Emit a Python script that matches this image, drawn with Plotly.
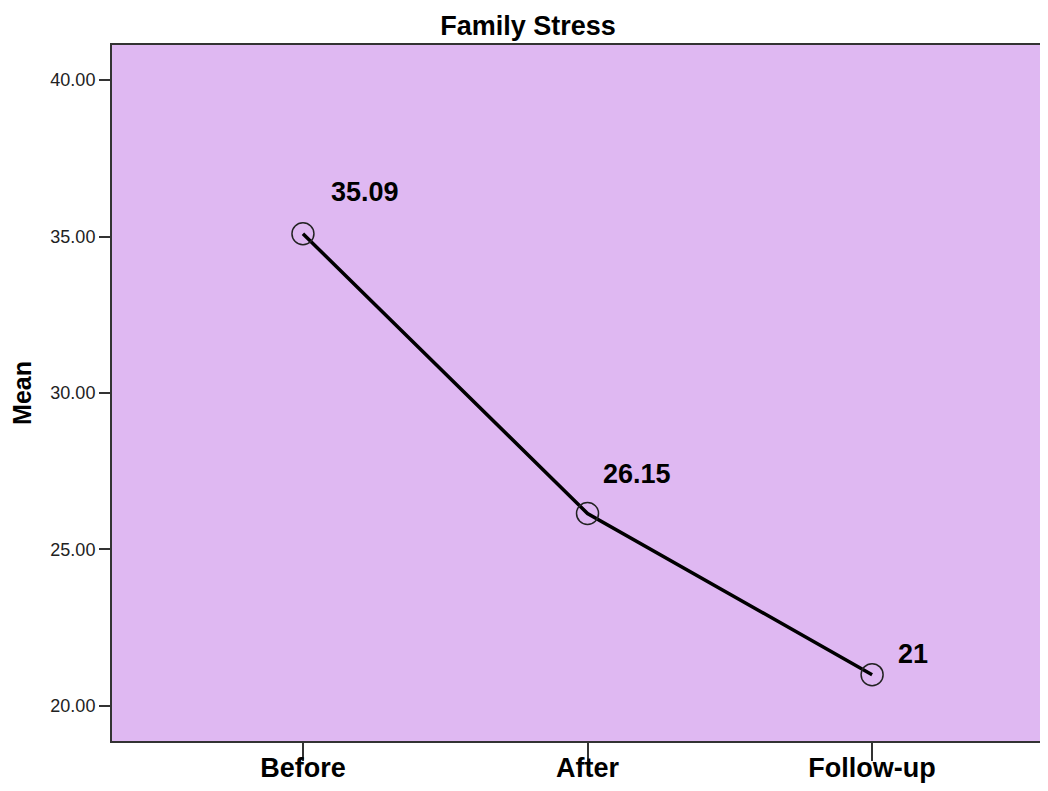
import plotly.graph_objects as go

# data
phases = ["Before", "After", "Follow-up"]
means = [35.09, 26.15, 21]
value_labels = ["35.09", "26.15", "21"]
y_ticks = [20, 25, 30, 35, 40]
y_tick_text = ["20.00", "25.00", "30.00", "35.00", "40.00"]

BG_PLOT = "#DFB8F2"
FRAME = "#333333"
FONT = "Liberation Sans, Arial, sans-serif"

# label offsets in px (SPSS-style placement)
label_shift = [(62, 42), (49, 39), (41, 21)]

fig = go.Figure()
fig.add_trace(go.Scatter(
    x=[0, 1, 2], y=means,
    mode="lines+markers",
    line=dict(color="black", width=3.5),
    marker=dict(symbol="circle-open", size=22, color="#222222",
                line=dict(width=1.5, color="#222222")),
    showlegend=False,
    hoverinfo="skip",
))

for i, (v, txt) in enumerate(zip(means, value_labels)):
    dx, dy = label_shift[i]
    fig.add_annotation(
        x=i, y=v, text=f"<b>{txt}</b>", showarrow=False,
        xshift=dx, yshift=dy,
        font=dict(family=FONT, size=27, color="black"),
    )

# page body keeps its 8px margin, so the figure is 16px smaller than the window
fig.update_layout(
    width=1032, height=775,
    margin=dict(l=104, r=0, t=37, b=36),
    paper_bgcolor="white",
    plot_bgcolor=BG_PLOT,
    font=dict(family=FONT, color="#222222"),
    title=dict(text="<b>Family Stress</b>", x=520 / 1032, xanchor="center",
               y=1 - 18 / 775, yanchor="middle",
               font=dict(family=FONT, size=27, color="black")),
    xaxis=dict(
        range=[-0.671, 2.590],
        tickvals=[0, 1, 2], ticktext=[f"<b>{p}</b>" for p in phases],
        tickfont=dict(family=FONT, size=27, color="black"),
        ticks="outside", ticklen=18, tickwidth=2, tickcolor=FRAME,
        ticklabelstandoff=-16,
        showline=True, linecolor=FRAME, linewidth=2, mirror=True,
        showgrid=False, zeroline=False,
    ),
    yaxis=dict(
        range=[18.88, 41.12],
        tickvals=y_ticks, ticktext=y_tick_text,
        tickfont=dict(family=FONT, size=18, color="#222222"),
        ticks="outside", ticklen=11, tickwidth=2, tickcolor=FRAME,
        showline=True, linecolor=FRAME, linewidth=2,
        showgrid=False, zeroline=False,
        title=dict(text="<b>Mean</b>", font=dict(family=FONT, size=25, color="black"),
                   standoff=16),
    ),
)

fig.write_html("out.html", config={"displayModeBar": False})
